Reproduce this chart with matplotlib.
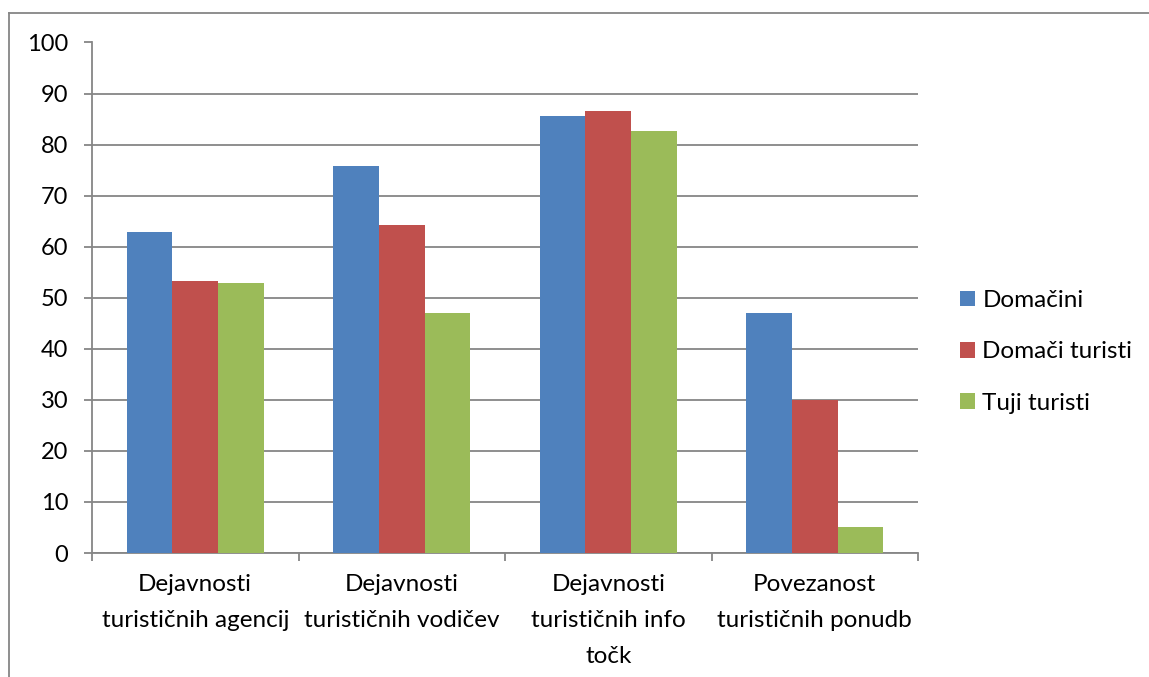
import matplotlib.pyplot as plt
import matplotlib.lines as mlines
import numpy as np

plt.rcParams['font.family'] = ['Lato', 'DejaVu Sans']

# data
categories = ['Dejavnosti\nturističnih agencij', 'Dejavnosti\nturističnih vodičev',
              'Dejavnosti\nturističnih info\ntočk', 'Povezanost\nturističnih ponudb']
series = ['Domačini', 'Domači turisti', 'Tuji turisti']
domacini = [62.9, 75.8, 85.7, 47.1]
domaci_turisti = [53.2, 64.3, 86.6, 30.0]
tuji_turisti = [52.8, 47.1, 82.7, 5.0]
colors = ['#4F81BD', '#C0504D', '#9BBB59']
grid_col = '#868686'

fig = plt.figure(figsize=(11.49, 6.77), dpi=100)
ax = fig.add_axes([92/1149, 1 - 553/677, (918 - 92)/1149, (553 - 42.5)/677])

x = np.arange(len(categories))
w = 0.221
for i, (vals, name) in enumerate(zip([domacini, domaci_turisti, tuji_turisti], series)):
    ax.bar(x + (i - 1) * w, vals, w, color=colors[i], label=name, zorder=3)

ax.set_xlim(-0.5, len(categories) - 0.5)
ax.set_ylim(0, 100)
ax.set_yticks(np.arange(0, 101, 10))
ax.yaxis.grid(True, color=grid_col, linewidth=1.3, zorder=0)
ax.tick_params(axis='y', length=6, width=1.3, color=grid_col, labelsize=17, pad=11)

# category boundaries as major ticks, labels on minor ticks
ax.set_xticks(np.arange(-0.5, len(categories)), labels=[''] * (len(categories) + 1))
ax.tick_params(axis='x', which='major', length=6, width=1.3, color=grid_col)
ax.set_xticks(x, minor=True)
ax.set_xticklabels(categories, minor=True, fontsize=17.5, linespacing=1.88)
ax.tick_params(axis='x', which='minor', length=0, pad=15)

for s in ['top', 'right']:
    ax.spines[s].set_visible(False)
for s in ['left', 'bottom']:
    ax.spines[s].set_color(grid_col)
    ax.spines[s].set_linewidth(1.3)

fig.legend(loc='center left', bbox_to_anchor=(960/1149, 1 - 352/677), frameon=False,
           fontsize=17.5, handlelength=0.62, handleheight=0.62, handletextpad=0.3,
           labelspacing=1.25, borderpad=0, borderaxespad=0)

# outer chart border (right and bottom edges fall outside the image)
fig.add_artist(mlines.Line2D([8.5/1149, 8.5/1149], [0, 1 - 13/677], color=grid_col, lw=1.3))
fig.add_artist(mlines.Line2D([8.5/1149, 1], [1 - 13/677, 1 - 13/677], color=grid_col, lw=1.3))

plt.savefig('out.png', dpi=100)
